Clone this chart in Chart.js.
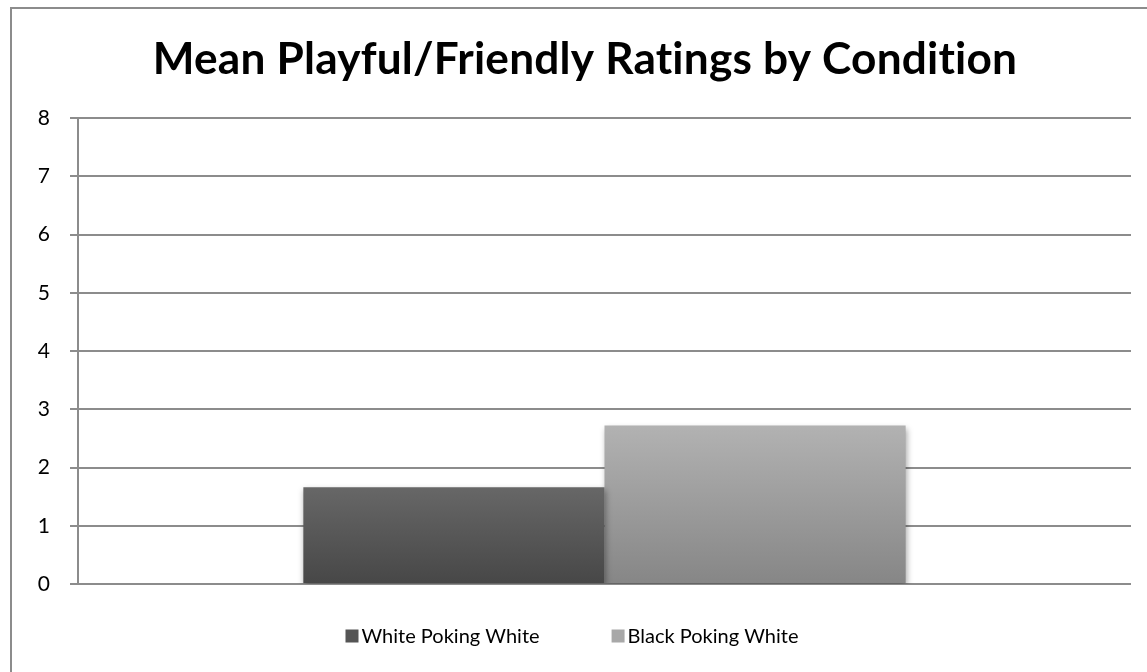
<!DOCTYPE html>
<html>
<head>
<meta charset="utf-8">
<script src="https://cdn.jsdelivr.net/npm/chart.js@4.4.1/dist/chart.umd.min.js"></script>
<style>
  html, body { margin: 0; padding: 0; background: #fff; overflow: hidden; }
  #wrap { position: relative; width: 1147px; height: 672px; }
  #frame { position: absolute; left: 10px; top: 7px; width: 1200px; height: 700px; border: 2px solid #8c8c8c; box-sizing: border-box; pointer-events: none; }
  canvas { position: absolute; left: 0; top: 0; }
</style>
</head>
<body>
<div id="wrap">
  <canvas id="c" width="1147" height="672"></canvas>
  <div id="frame"></div>
</div>
<script>
const chartTitle = 'Mean Playful/Friendly Ratings by Condition';
const categories = [''];
const seriesNames = ['White Poking White', 'Black Poking White'];
const whitePokingWhite = [1.66];
const blackPokingWhite = [2.72];
const yTicks = [0, 1, 2, 3, 4, 5, 6, 7, 8];

const gradStops = [
  ['#676767', '#474747'],
  ['#b2b2b2', '#868686']
];
const legendColors = ['#555555', '#a8a8a8'];

function barGradient(ctx, idx) {
  const chart = ctx.chart;
  const ca = chart.chartArea;
  if (!ca) return gradStops[idx][0];
  const y = chart.scales.y;
  const v = ctx.raw == null ? 0 : ctx.raw;
  const top = y.getPixelForValue(v);
  const bottom = y.getPixelForValue(0);
  const g = chart.ctx.createLinearGradient(0, top, 0, bottom);
  g.addColorStop(0, gradStops[idx][0]);
  g.addColorStop(1, gradStops[idx][1]);
  return g;
}

const shadowPlugin = {
  id: 'shadow',
  beforeDatasetsDraw(chart) {
    const c = chart.ctx;
    c.save();
    c.shadowColor = 'rgba(0,0,0,0.35)';
    c.shadowBlur = 6;
    c.shadowOffsetX = 1;
    c.shadowOffsetY = 3;
  },
  afterDatasetsDraw(chart) {
    chart.ctx.restore();
  }
};

const textPlugin = {
  id: 'titleLegend',
  afterDraw(chart) {
    const c = chart.ctx;
    c.save();
    c.font = 'bold 100px Lato';
    c.letterSpacing = '0.2px';
    const size = 100 * 860 / c.measureText(chartTitle).width;
    c.font = 'bold ' + size.toFixed(2) + 'px Lato';
    c.fillStyle = '#000';
    c.textAlign = 'center';
    c.textBaseline = 'alphabetic';
    c.fillText(chartTitle, 585, 74);
    c.letterSpacing = '0px';
    c.font = '20px Lato';
    c.textAlign = 'left';
    c.textBaseline = 'middle';
    const box = 13, gapText = 3, gapItem = 72;
    const ds = chart.data.datasets;
    const widths = ds.map(d => box + gapText + c.measureText(d.label).width);
    const total = widths.reduce((a, b) => a + b, 0) + gapItem * (ds.length - 1);
    let x = 572 - total / 2;
    const yMid = 636;
    ds.forEach((d, i) => {
      c.fillStyle = legendColors[i];
      c.fillRect(x, yMid - box / 2, box, box);
      c.fillStyle = '#000';
      c.fillText(d.label, x + box + gapText, yMid + 1);
      x += widths[i] + gapItem;
    });
    c.restore();
  }
};

new Chart(document.getElementById('c'), {
  type: 'bar',
  data: {
    labels: categories,
    datasets: [
      { label: seriesNames[0], data: whitePokingWhite, backgroundColor: (c) => barGradient(c, 0), borderWidth: 0 },
      { label: seriesNames[1], data: blackPokingWhite, backgroundColor: (c) => barGradient(c, 1), borderWidth: 0 }
    ]
  },
  options: {
    responsive: false,
    animation: false,
    devicePixelRatio: 1,
    layout: { padding: { left: 0, right: 16, top: 118, bottom: 16 } },
    datasets: { bar: { barPercentage: 1.0, categoryPercentage: 0.572 } },
    plugins: {
      title: { display: false },
      legend: { display: false },
      tooltip: { enabled: false }
    },
    scales: {
      x: {
        grid: { display: false },
        border: { display: false },
        ticks: { display: false },
        afterFit(scale) { scale.height = 72; }
      },
      y: {
        min: 0,
        max: 8,
        afterBuildTicks(scale) { scale.ticks = yTicks.map(v => ({ value: v })); },
        afterFit(scale) { scale.width = 78; },
        grid: { color: '#8c8c8c', lineWidth: 2, tickLength: 8, drawTicks: true },
        border: { display: true, color: '#8c8c8c', width: 2 },
        ticks: { color: '#000', padding: 20, font: { family: 'Lato', size: 21 } }
      }
    }
  },
  plugins: [shadowPlugin, textPlugin]
});
</script>
</body>
</html>
